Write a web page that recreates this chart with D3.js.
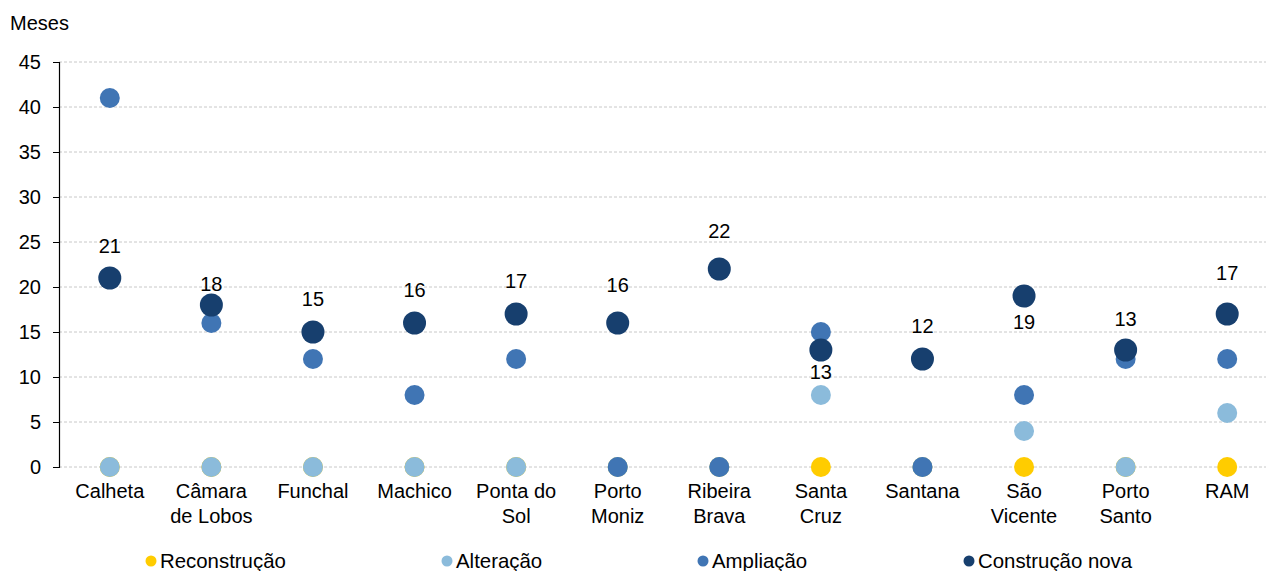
<!DOCTYPE html>
<html>
<head>
<meta charset="utf-8">
<script src="https://cdn.jsdelivr.net/npm/d3@7"></script>
<style>
  html, body { margin: 0; padding: 0; background: #fff; }
  svg { display: block; font-family: "Liberation Sans", Arial, sans-serif; }
</style>
</head>
<body>
<svg id="chart" width="1269" height="571"></svg>
<script>
// Municipalities (Região Autónoma da Madeira) and the regional total
const categories = ["Calheta", "Câmara de Lobos", "Funchal", "Machico", "Ponta do Sol",
  "Porto Moniz", "Ribeira Brava", "Santa Cruz", "Santana", "São Vicente", "Porto Santo", "RAM"];
const categoryLines = [["Calheta"], ["Câmara", "de Lobos"], ["Funchal"], ["Machico"], ["Ponta do", "Sol"],
  ["Porto", "Moniz"], ["Ribeira", "Brava"], ["Santa", "Cruz"], ["Santana"], ["São", "Vicente"], ["Porto", "Santo"], ["RAM"]];

// Median duration (months) by type of works
const reconstrucao   = [0, 0, 0, 0, 0, 0, 0, 0, 0, 0, 0, 0];
const alteracao      = [0, 0, 0, 0, 0, 0, 0, 8, 0, 4, 0, 6];
const ampliacao      = [41, 16, 12, 8, 12, 0, 0, 15, 0, 8, 12, 12];
const construcaoNova = [21, 18, 15, 16, 17, 16, 22, 13, 12, 19, 13, 17];

const seriesNames = ["Reconstrução", "Alteração", "Ampliação", "Construção nova"];
const yTicks = [0, 5, 10, 15, 20, 25, 30, 35, 40, 45];

// Vertical offset of each value label relative to its marker (negative = above)
const labelDy = [-32, -21, -33, -33, -33, -38, -38, 22, -33, 26, -31, -41];

const series = [
  { name: seriesNames[0], values: reconstrucao,   color: "#FFCC00", r: 10 },
  { name: seriesNames[1], values: alteracao,      color: "#8BBBDB", r: 10 },
  { name: seriesNames[2], values: ampliacao,      color: "#4075B4", r: 10 },
  { name: seriesNames[3], values: construcaoNova, color: "#173F6E", r: 11.5 }
];

const FS = 20;
const svg = d3.select("#chart");
const plotLeft = 59, plotTop = 62, plotBottom = 467, plotRight = 1278;

const x = d3.scaleBand().domain(categories).range([plotLeft, plotRight]);
const y = d3.scaleLinear().domain([0, 45]).range([plotBottom, plotTop]);
const cx = c => x(c) + x.bandwidth() / 2;

// Horizontal dashed gridlines
svg.append("g")
  .selectAll("line")
  .data(yTicks)
  .join("line")
  .attr("x1", plotLeft).attr("x2", 1266)
  .attr("y1", d => y(d)).attr("y2", d => y(d))
  .attr("stroke", "#c8c8c8")
  .attr("stroke-width", 1)
  .attr("stroke-dasharray", "3,2");

// Y axis
const yAxis = svg.append("g")
  .attr("transform", `translate(${plotLeft},0)`)
  .call(d3.axisLeft(y).tickValues(yTicks).tickSize(6).tickPadding(12).tickFormat(d3.format("d")));
yAxis.select(".domain").attr("stroke", "#000").attr("stroke-width", 1.2);
yAxis.selectAll(".tick line").attr("stroke", "#000");
yAxis.selectAll("text").attr("font-size", FS).attr("fill", "#000")
  .attr("font-family", "'Liberation Sans', Arial, sans-serif");

svg.append("text")
  .attr("x", 10).attr("y", 30)
  .attr("font-size", FS).attr("fill", "#000")
  .text("Meses");

// Category labels (wrapped on two lines where needed)
const xLab = svg.append("g");
categories.forEach((c, i) => {
  const t = xLab.append("text")
    .attr("x", cx(c))
    .attr("y", 498)
    .attr("text-anchor", "middle")
    .attr("font-size", FS)
    .attr("fill", "#000");
  categoryLines[i].forEach((ln, k) => {
    t.append("tspan").attr("x", cx(c)).attr("dy", k === 0 ? 0 : 24.5).text(ln);
  });
});

// Markers, drawn series by series so later series sit on top
series.forEach(s => {
  svg.append("g")
    .selectAll("circle")
    .data(s.values.map((v, i) => ({ cat: categories[i], v })))
    .join("circle")
    .attr("cx", d => cx(d.cat))
    .attr("cy", d => y(d.v))
    .attr("r", s.r)
    .attr("fill", s.color);
});

// Value labels for "Construção nova"
svg.append("g")
  .selectAll("text")
  .data(construcaoNova.map((v, i) => ({ cat: categories[i], v, dy: labelDy[i] })))
  .join("text")
  .attr("x", d => cx(d.cat))
  .attr("y", d => y(d.v) + d.dy)
  .attr("dy", "0.35em")
  .attr("text-anchor", "middle")
  .attr("font-size", FS)
  .attr("fill", "#000")
  .text(d => d.v);

// Legend
const legendX = [151, 447, 703, 969];
const lg = svg.append("g");
series.forEach((s, i) => {
  lg.append("circle").attr("cx", legendX[i]).attr("cy", 561).attr("r", 5.5).attr("fill", s.color);
  lg.append("text").attr("x", legendX[i] + 9).attr("y", 567.5)
    .attr("font-size", 20.4).attr("fill", "#000").text(s.name);
});
</script>
</body>
</html>
